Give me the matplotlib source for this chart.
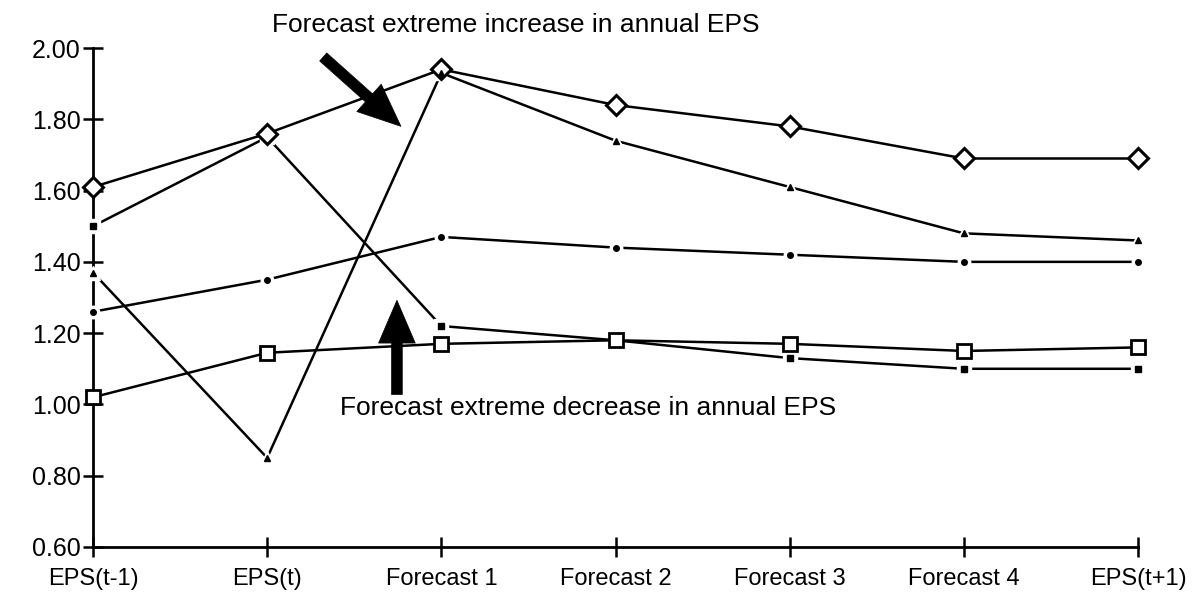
import matplotlib
matplotlib.use("Agg")
import matplotlib.pyplot as plt

plt.rcParams['font.family'] = ['Liberation Sans', 'DejaVu Sans']

categories = ["EPS(t-1)", "EPS(t)", "Forecast 1", "Forecast 2", "Forecast 3", "Forecast 4", "EPS(t+1)"]
increase_open_diamond = [1.61, 1.76, 1.94, 1.84, 1.78, 1.69, 1.69]
triangle_series = [1.37, 0.85, 1.93, 1.74, 1.61, 1.48, 1.46]
filled_square_series = [1.50, 1.75, 1.22, 1.18, 1.13, 1.10, 1.10]
dot_series = [1.26, 1.35, 1.47, 1.44, 1.42, 1.40, 1.40]
open_square_series = [1.02, 1.145, 1.17, 1.18, 1.17, 1.15, 1.16]
y_ticks = [0.60, 0.80, 1.00, 1.20, 1.40, 1.60, 1.80, 2.00]

fig = plt.figure(figsize=(11.92, 5.98), dpi=100)
ax = fig.add_axes([93/1192, 1-547/598, (1138-93)/1192, (547-48)/598])
x = list(range(len(categories)))

lw = 1.8
for s in [open_square_series, filled_square_series, dot_series, triangle_series, increase_open_diamond]:
    ax.plot(x, s, color='black', lw=lw, zorder=2, clip_on=False)

def halo(vals, marker, ms, z=5):
    ax.plot(x, vals, ls='none', marker=marker, ms=ms+5, mfc='white', mec='white', zorder=4, clip_on=False)
    ax.plot(x, vals, ls='none', marker=marker, ms=ms, mfc='black', mec='black', zorder=z, clip_on=False)

halo(filled_square_series, 's', 5)
halo(dot_series, 'o', 4)
halo(triangle_series, '^', 5, z=7)
ax.plot(x, open_square_series, ls='none', marker='s', ms=10, mfc='white', mec='black', mew=2, zorder=6, clip_on=False)
ax.plot(x, increase_open_diamond, ls='none', marker='D', ms=10, mfc='white', mec='black', mew=2.2, zorder=6, clip_on=False)

ax.set_xlim(0, 6)
ax.set_ylim(0.6, 2.0)
ax.set_xticks(x)
ax.set_xticklabels(categories, fontsize=17)
ax.set_yticks(y_ticks)
ax.set_yticklabels([f"{v:.2f}" for v in y_ticks], fontsize=18)
for s in ['top', 'right']:
    ax.spines[s].set_visible(False)
for s in ['left', 'bottom']:
    ax.spines[s].set_linewidth(2)
ax.tick_params(axis='both', direction='inout', length=14, width=1.8)
ax.tick_params(axis='x', pad=8)
ax.tick_params(axis='y', pad=2)

style = "simple,head_length=1.4,head_width=1.2,tail_width=0.35"
ax.annotate("", xy=(1.78, 1.775), xytext=(1.31, 1.98),
            arrowprops=dict(arrowstyle=style, mutation_scale=22, color='black', lw=0.5), annotation_clip=False)
ax.annotate("", xy=(1.745, 1.30), xytext=(1.745, 1.02),
            arrowprops=dict(arrowstyle=style, mutation_scale=22, color='black', lw=0.5), annotation_clip=False)
ax.text(2.43, 2.064, "Forecast extreme increase in annual EPS", ha='center', va='center', fontsize=19)
ax.text(2.84, 0.99, "Forecast extreme decrease in annual EPS", ha='center', va='center', fontsize=19)

fig.savefig("out.png", dpi=100)
